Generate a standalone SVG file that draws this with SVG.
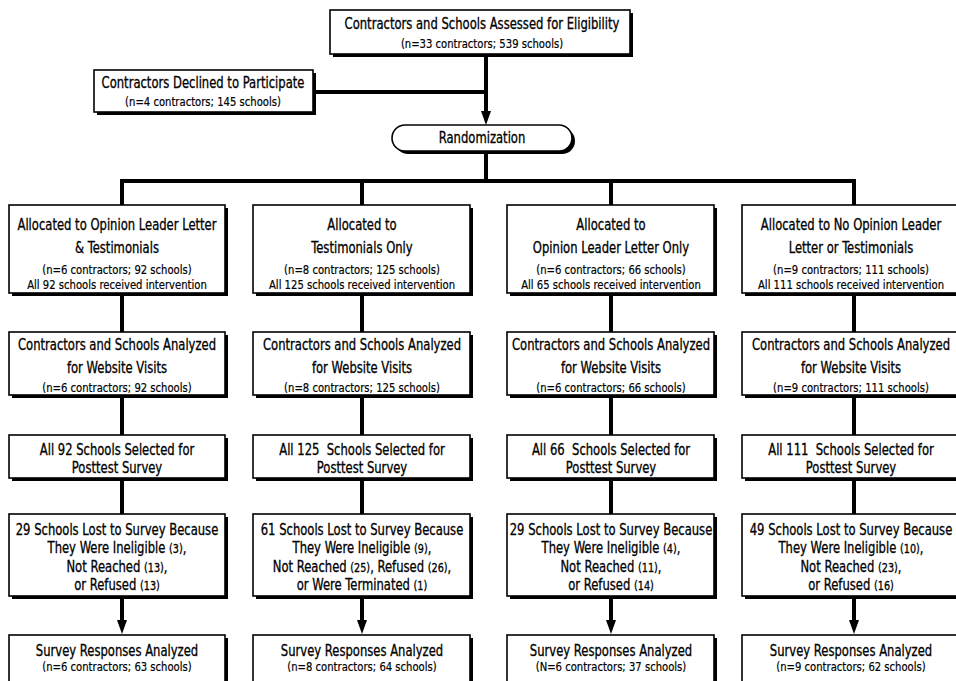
<svg xmlns="http://www.w3.org/2000/svg" width="956" height="681" viewBox="0 0 956 681">
<defs>
<style>
.sh{fill:#000}
.bx{fill:#fff;stroke:#000;stroke-width:1.6}
.t{font-family:"DejaVu Sans Condensed","Liberation Sans Narrow","Liberation Sans",sans-serif;font-size:15px;text-anchor:middle;fill:#000;stroke:#000;stroke-width:0.3}
.s{font-family:"DejaVu Sans Condensed","Liberation Sans Narrow","Liberation Sans",sans-serif;font-size:13px;text-anchor:middle;fill:#000;stroke:#000;stroke-width:0.2}
.p{font-size:12.5px}
.ln{stroke:#000;stroke-width:4;fill:none}
</style>
<marker id="ah" viewBox="0 0 14 10" refX="0" refY="5" markerWidth="3.5" markerHeight="2.5" orient="auto" markerUnits="strokeWidth">
<path d="M0,0 L14,5 L0,10 Z" fill="#000"/>
</marker>
</defs>
<rect width="956" height="681" fill="#fff"/>

<g id="connectors">
<line class="ln" x1="486" y1="56" x2="486" y2="111" marker-end="url(#ah)"/>
<line class="ln" x1="316" y1="92" x2="486" y2="92"/>
<line class="ln" x1="486" y1="152" x2="486" y2="181"/>
<line class="ln" x1="120" y1="181" x2="856" y2="181"/>
<line class="ln" x1="122" y1="179" x2="122" y2="206"/>
<line class="ln" x1="362" y1="179" x2="362" y2="206"/>
<line class="ln" x1="611" y1="179" x2="611" y2="206"/>
<line class="ln" x1="854" y1="179" x2="854" y2="206"/>
<line class="ln" x1="122" y1="296" x2="122" y2="333"/>
<line class="ln" x1="362" y1="296" x2="362" y2="333"/>
<line class="ln" x1="611" y1="296" x2="611" y2="333"/>
<line class="ln" x1="854" y1="296" x2="854" y2="333"/>
<line class="ln" x1="122" y1="398" x2="122" y2="436"/>
<line class="ln" x1="362" y1="398" x2="362" y2="436"/>
<line class="ln" x1="611" y1="398" x2="611" y2="436"/>
<line class="ln" x1="854" y1="398" x2="854" y2="436"/>
<line class="ln" x1="122" y1="480" x2="122" y2="515"/>
<line class="ln" x1="362" y1="480" x2="362" y2="515"/>
<line class="ln" x1="611" y1="480" x2="611" y2="515"/>
<line class="ln" x1="854" y1="480" x2="854" y2="515"/>
<line class="ln" x1="122" y1="599" x2="122" y2="620" marker-end="url(#ah)"/>
<line class="ln" x1="362" y1="599" x2="362" y2="620" marker-end="url(#ah)"/>
<line class="ln" x1="611" y1="599" x2="611" y2="620" marker-end="url(#ah)"/>
<line class="ln" x1="854" y1="599" x2="854" y2="620" marker-end="url(#ah)"/>
</g>

<g id="assessed">
<rect class="sh" x="333" y="13" width="300" height="44"/>
<rect class="bx" x="330" y="10" width="300" height="44"/>
<g transform="translate(482 0) scale(0.86 1)">
<text class="t" x="0" y="29">Contractors and Schools Assessed for Eligibility</text>
<text class="s" x="0" y="48">(n=33 contractors; 539 schools)</text>
</g>
</g>

<g id="declined">
<rect class="sh" x="97" y="73" width="219" height="42"/>
<rect class="bx" x="94" y="70" width="219" height="42"/>
<g transform="translate(203 0) scale(0.86 1)">
<text class="t" x="0" y="88">Contractors Declined to Participate</text>
<text class="s" x="0" y="106">(n=4 contractors; 145 schools)</text>
</g>
</g>

<g id="randomization">
<rect class="sh" x="395" y="128" width="180" height="26" rx="13"/>
<rect class="bx" x="392" y="125" width="180" height="26" rx="13"/>
<g transform="translate(482 0) scale(0.86 1)">
<text class="t" x="0" y="143">Randomization</text>
</g>
</g>

<g id="c1r1">
<rect class="sh" x="12" y="208" width="216" height="88"/>
<rect class="bx" x="9" y="205" width="216" height="88"/>
<g transform="translate(117 0) scale(0.86 1)">
<text class="t" x="0" y="230">Allocated to Opinion Leader Letter</text>
<text class="t" x="0" y="253">&amp; Testimonials</text>
<text class="s" x="0" y="274">(n=6 contractors; 92 schools)</text>
<text class="s" x="0" y="289">All 92 schools received intervention</text>
</g>
</g>
<g id="c2r1">
<rect class="sh" x="256" y="208" width="217" height="88"/>
<rect class="bx" x="253" y="205" width="217" height="88"/>
<g transform="translate(362 0) scale(0.86 1)">
<text class="t" x="0" y="230">Allocated to</text>
<text class="t" x="0" y="253">Testimonials Only</text>
<text class="s" x="0" y="274">(n=8 contractors; 125 schools)</text>
<text class="s" x="0" y="289">All 125 schools received intervention</text>
</g>
</g>
<g id="c3r1">
<rect class="sh" x="510" y="208" width="207" height="88"/>
<rect class="bx" x="507" y="205" width="207" height="88"/>
<g transform="translate(611 0) scale(0.86 1)">
<text class="t" x="0" y="230">Allocated to</text>
<text class="t" x="0" y="253">Opinion Leader Letter Only</text>
<text class="s" x="0" y="274">(n=6 contractors; 66 schools)</text>
<text class="s" x="0" y="289">All 65 schools received intervention</text>
</g>
</g>
<g id="c4r1">
<rect class="sh" x="745" y="208" width="218" height="88"/>
<rect class="bx" x="742" y="205" width="218" height="88"/>
<g transform="translate(851 0) scale(0.86 1)">
<text class="t" x="0" y="230">Allocated to No Opinion Leader</text>
<text class="t" x="0" y="253">Letter or Testimonials</text>
<text class="s" x="0" y="274">(n=9 contractors; 111 schools)</text>
<text class="s" x="0" y="289">All 111 schools received intervention</text>
</g>
</g>

<g id="c1r2">
<rect class="sh" x="12" y="335" width="216" height="63"/>
<rect class="bx" x="9" y="332" width="216" height="63"/>
<g transform="translate(117 0) scale(0.86 1)">
<text class="t" x="0" y="350">Contractors and Schools Analyzed</text>
<text class="t" x="0" y="373">for Website Visits</text>
<text class="s" x="0" y="392">(n=6 contractors; 92 schools)</text>
</g>
</g>
<g id="c2r2">
<rect class="sh" x="256" y="335" width="217" height="63"/>
<rect class="bx" x="253" y="332" width="217" height="63"/>
<g transform="translate(362 0) scale(0.86 1)">
<text class="t" x="0" y="350">Contractors and Schools Analyzed</text>
<text class="t" x="0" y="373">for Website Visits</text>
<text class="s" x="0" y="392">(n=8 contractors; 125 schools)</text>
</g>
</g>
<g id="c3r2">
<rect class="sh" x="510" y="335" width="207" height="63"/>
<rect class="bx" x="507" y="332" width="207" height="63"/>
<g transform="translate(611 0) scale(0.86 1)">
<text class="t" x="0" y="350">Contractors and Schools Analyzed</text>
<text class="t" x="0" y="373">for Website Visits</text>
<text class="s" x="0" y="392">(n=6 contractors; 66 schools)</text>
</g>
</g>
<g id="c4r2">
<rect class="sh" x="745" y="335" width="218" height="63"/>
<rect class="bx" x="742" y="332" width="218" height="63"/>
<g transform="translate(851 0) scale(0.86 1)">
<text class="t" x="0" y="350">Contractors and Schools Analyzed</text>
<text class="t" x="0" y="373">for Website Visits</text>
<text class="s" x="0" y="392">(n=9 contractors; 111 schools)</text>
</g>
</g>

<g id="c1r3">
<rect class="sh" x="12" y="438" width="216" height="43"/>
<rect class="bx" x="9" y="435" width="216" height="43"/>
<g transform="translate(117 0) scale(0.86 1)">
<text class="t" x="0" y="455">All 92 Schools Selected for</text>
<text class="t" x="0" y="473">Posttest Survey</text>
</g>
</g>
<g id="c2r3">
<rect class="sh" x="256" y="438" width="217" height="43"/>
<rect class="bx" x="253" y="435" width="217" height="43"/>
<g transform="translate(362 0) scale(0.86 1)">
<text class="t" x="0" y="455" xml:space="preserve">All 125  Schools Selected for</text>
<text class="t" x="0" y="473">Posttest Survey</text>
</g>
</g>
<g id="c3r3">
<rect class="sh" x="510" y="438" width="207" height="43"/>
<rect class="bx" x="507" y="435" width="207" height="43"/>
<g transform="translate(611 0) scale(0.86 1)">
<text class="t" x="0" y="455" xml:space="preserve">All 66  Schools Selected for</text>
<text class="t" x="0" y="473">Posttest Survey</text>
</g>
</g>
<g id="c4r3">
<rect class="sh" x="745" y="438" width="218" height="43"/>
<rect class="bx" x="742" y="435" width="218" height="43"/>
<g transform="translate(851 0) scale(0.86 1)">
<text class="t" x="0" y="455" xml:space="preserve">All 111  Schools Selected for</text>
<text class="t" x="0" y="473">Posttest Survey</text>
</g>
</g>

<g id="c1r4">
<rect class="sh" x="12" y="517" width="216" height="82"/>
<rect class="bx" x="9" y="514" width="216" height="82"/>
<g transform="translate(117 0) scale(0.86 1)">
<text class="t" x="0" y="535">29 Schools Lost to Survey Because</text>
<text class="t" x="0" y="553">They Were Ineligible <tspan class="p">(3)</tspan>,</text>
<text class="t" x="0" y="572">Not Reached <tspan class="p">(13)</tspan>,</text>
<text class="t" x="0" y="590">or Refused <tspan class="p">(13)</tspan></text>
</g>
</g>
<g id="c2r4">
<rect class="sh" x="256" y="517" width="217" height="82"/>
<rect class="bx" x="253" y="514" width="217" height="82"/>
<g transform="translate(362 0) scale(0.86 1)">
<text class="t" x="0" y="535">61 Schools Lost to Survey Because</text>
<text class="t" x="0" y="553">They Were Ineligible <tspan class="p">(9)</tspan>,</text>
<text class="t" x="0" y="572">Not Reached <tspan class="p">(25)</tspan>, Refused <tspan class="p">(26)</tspan>,</text>
<text class="t" x="0" y="590">or Were Terminated <tspan class="p">(1)</tspan></text>
</g>
</g>
<g id="c3r4">
<rect class="sh" x="510" y="517" width="207" height="82"/>
<rect class="bx" x="507" y="514" width="207" height="82"/>
<g transform="translate(611 0) scale(0.86 1)">
<text class="t" x="0" y="535">29 Schools Lost to Survey Because</text>
<text class="t" x="0" y="553">They Were Ineligible <tspan class="p">(4)</tspan>,</text>
<text class="t" x="0" y="572">Not Reached <tspan class="p">(11)</tspan>,</text>
<text class="t" x="0" y="590">or Refused <tspan class="p">(14)</tspan></text>
</g>
</g>
<g id="c4r4">
<rect class="sh" x="745" y="517" width="218" height="82"/>
<rect class="bx" x="742" y="514" width="218" height="82"/>
<g transform="translate(851 0) scale(0.86 1)">
<text class="t" x="0" y="535">49 Schools Lost to Survey Because</text>
<text class="t" x="0" y="553">They Were Ineligible <tspan class="p">(10)</tspan>,</text>
<text class="t" x="0" y="572">Not Reached <tspan class="p">(23)</tspan>,</text>
<text class="t" x="0" y="590">or Refused <tspan class="p">(16)</tspan></text>
</g>
</g>

<g id="c1r5">
<rect class="sh" x="12" y="638" width="216" height="60"/>
<rect class="bx" x="9" y="635" width="216" height="60"/>
<g transform="translate(117 0) scale(0.86 1)">
<text class="t" x="0" y="656">Survey Responses Analyzed</text>
<text class="s" x="0" y="671">(n=6 contractors; 63 schools)</text>
</g>
</g>
<g id="c2r5">
<rect class="sh" x="256" y="638" width="217" height="60"/>
<rect class="bx" x="253" y="635" width="217" height="60"/>
<g transform="translate(362 0) scale(0.86 1)">
<text class="t" x="0" y="656">Survey Responses Analyzed</text>
<text class="s" x="0" y="671">(n=8 contractors; 64 schools)</text>
</g>
</g>
<g id="c3r5">
<rect class="sh" x="510" y="638" width="207" height="60"/>
<rect class="bx" x="507" y="635" width="207" height="60"/>
<g transform="translate(611 0) scale(0.86 1)">
<text class="t" x="0" y="656">Survey Responses Analyzed</text>
<text class="s" x="0" y="671">(N=6 contractors; 37 schools)</text>
</g>
</g>
<g id="c4r5">
<rect class="sh" x="745" y="638" width="218" height="60"/>
<rect class="bx" x="742" y="635" width="218" height="60"/>
<g transform="translate(851 0) scale(0.86 1)">
<text class="t" x="0" y="656">Survey Responses Analyzed</text>
<text class="s" x="0" y="671">(n=9 contractors; 62 schools)</text>
</g>
</g>
</svg>
